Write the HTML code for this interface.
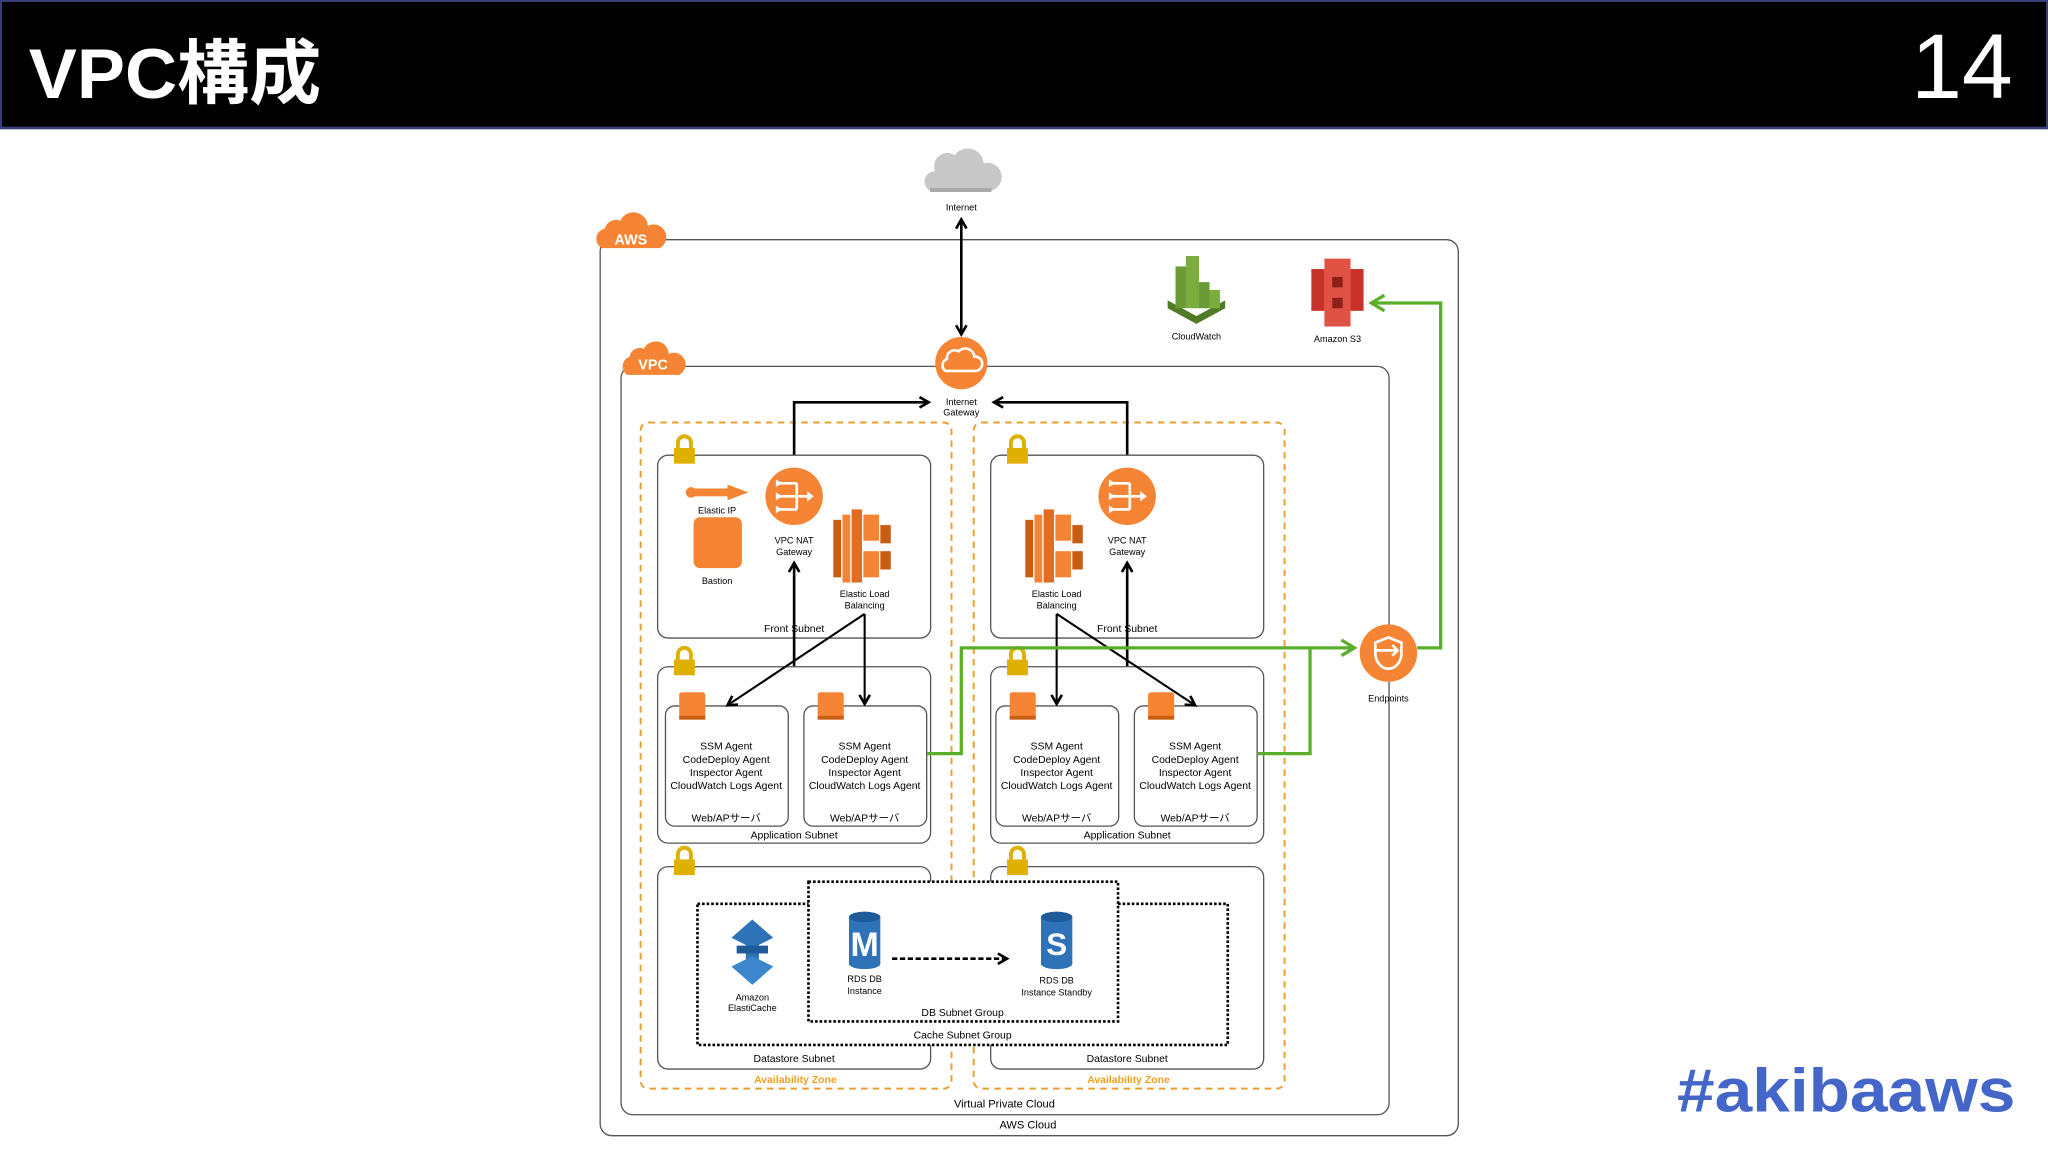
<!DOCTYPE html>
<html><head><meta charset="utf-8"><style>
html,body{margin:0;padding:0;background:#fff;}
svg{display:block;}
text{font-family:"Liberation Sans","Noto Sans CJK JP",sans-serif;}
</style></head><body>
<svg width="2048" height="1152" viewBox="0 0 1568 882" xmlns="http://www.w3.org/2000/svg">
<defs>
<marker id="ab" markerWidth="10" markerHeight="10" refX="8" refY="5" orient="auto-start-reverse" markerUnits="userSpaceOnUse"><path d="M1,1 L8,5 L1,9" fill="none" stroke="#000" stroke-width="2"/></marker>
<marker id="ag" markerWidth="14" markerHeight="14" refX="11" refY="7" orient="auto-start-reverse" markerUnits="userSpaceOnUse"><path d="M1,1 L11,7 L1,13" fill="none" stroke="#5aaf2a" stroke-width="2.5"/></marker>
<g id="lock"><rect x="-8" y="-3" width="16" height="12" fill="#e0b000"/><path d="M-5,-3 V-7 a5,5 0 0 1 10,0 V-3" fill="none" stroke="#e0b000" stroke-width="3"/></g>
<g id="nat"><circle r="22" fill="#f58534"/><path d="M-12,-10 H2 M-12,0 H10 M-12,10 H2 M2,-10 V10" stroke="#fff" stroke-width="2" fill="none"/><path d="M10,-4 L15,0 L10,4Z M-14,-13 l5,3 -5,3Z M-14,-3 l5,3 -5,3Z M-14,7 l5,3 -5,3Z" fill="#fff"/></g>
<g id="elb"><rect x="-24" y="-20" width="6" height="44" fill="#c85d14"/><rect x="-17" y="-24" width="6" height="52" fill="#f58534"/><rect x="-10" y="-28" width="8" height="56" fill="#e06d20"/><rect x="-1" y="-24" width="12" height="20" fill="#f58534"/><rect x="-1" y="4" width="12" height="20" fill="#f58534"/><rect x="12" y="-16" width="8" height="14" fill="#c85d14"/><rect x="12" y="4" width="8" height="14" fill="#c85d14"/></g>
<g id="inst"><rect x="-10" y="-10" width="20" height="20" rx="2" fill="#f58534"/><rect x="-10" y="8" width="20" height="3" fill="#c85d14"/></g>
</defs>

<rect x="0" y="0" width="1568" height="98" fill="#000"/>
<rect x="0" y="0" width="1568" height="1.5" fill="#3a3f7a"/>
<rect x="0" y="97" width="1568" height="2" fill="#3a3f7a"/>
<rect x="0" y="0" width="1.5" height="98" fill="#3a3f7a"/>
<rect x="1566.5" y="0" width="1.5" height="98" fill="#3a3f7a"/>
<text x="22" y="75" font-size="54" font-weight="bold" fill="#fff" textLength="224" lengthAdjust="spacingAndGlyphs">VPC構成</text>
<text x="1541" y="75" font-size="70" fill="#fff" text-anchor="end">14</text>
<text x="1284" y="851" font-size="47" font-weight="bold" fill="#4466c8" textLength="259" lengthAdjust="spacingAndGlyphs">#akibaaws</text>

<rect x="459.5" y="183.5" width="657" height="686" rx="9" fill="#fff" stroke="#555" stroke-width="1"/>
<rect x="475.5" y="280.5" width="588" height="573" rx="9" fill="#fff" stroke="#555" stroke-width="1"/>
<text x="787" y="864" font-size="8.5" text-anchor="middle">AWS Cloud</text>
<text x="769" y="848" font-size="8.5" text-anchor="middle">Virtual Private Cloud</text>

<g transform="translate(483,180)"><path d="M-22,10 a8,8 0 0 1 2,-15 a9,9 0 0 1 12,-6 a11,11 0 0 1 21,4 a8,8 0 0 1 9,17Z" fill="#f58534"/><text x="0" y="7" font-size="11" fill="#fff" text-anchor="middle" font-weight="bold">AWS</text></g>
<g transform="translate(500,277)"><path d="M-20,10 a8,8 0 0 1 2,-14 a8,8 0 0 1 11,-6 a10,10 0 0 1 19,4 a8,8 0 0 1 8,16Z" fill="#f58534"/><text x="0" y="6" font-size="11" fill="#fff" text-anchor="middle" font-weight="bold">VPC</text></g>

<path d="M712,146 a8,8 0 0 1 4,-15 a10,10 0 0 1 15,-12 a12,12 0 0 1 22,6 a9,9 0 0 1 6,21Z" fill="#c8c8c8"/>
<rect x="712" y="144" width="47" height="3" fill="#aaa"/>
<text x="736" y="161" font-size="7" text-anchor="middle">Internet</text>
<line x1="736" y1="168" x2="736" y2="256" stroke="#000" stroke-width="2" marker-start="url(#ab)" marker-end="url(#ab)"/>

<circle cx="736" cy="278" r="20" fill="#f58534"/>
<path d="M724,284 a5,5 0 0 1 1,-9 a6,6 0 0 1 9,-6 a7,7 0 0 1 12,4 a5,5 0 0 1 1,11Z" fill="none" stroke="#fff" stroke-width="2"/>
<text x="736" y="310" font-size="7" text-anchor="middle">Internet</text>
<text x="736" y="318" font-size="7" text-anchor="middle">Gateway</text>

<g transform="translate(916,222)"><path d="M-22,14 L0,26 L22,14 L22,8 L0,20 L-22,8Z" fill="#4f7a26"/><rect x="-16" y="-18" width="8" height="32" fill="#6a9a35"/><rect x="-8" y="-26" width="10" height="40" fill="#7aad3b"/><rect x="2" y="-6" width="8" height="20" fill="#6a9a35"/><rect x="10" y="0" width="8" height="14" fill="#7aad3b"/></g>
<text x="916" y="260" font-size="7" text-anchor="middle">CloudWatch</text>
<g transform="translate(1024,224)"><rect x="-20" y="-18" width="10" height="32" fill="#c7322a"/><rect x="10" y="-18" width="10" height="32" fill="#c7322a"/><rect x="-10" y="-26" width="20" height="52" fill="#e05243"/><rect x="-4" y="-12" width="8" height="8" fill="#8c2019"/><rect x="-4" y="4" width="8" height="8" fill="#8c2019"/></g>
<text x="1024" y="262" font-size="7" text-anchor="middle">Amazon S3</text>

<rect x="490.5" y="323.5" width="238" height="510" rx="6" fill="none" stroke="#e8a030" stroke-width="1.5" stroke-dasharray="5,4"/>
<rect x="745.5" y="323.5" width="238" height="510" rx="6" fill="none" stroke="#e8a030" stroke-width="1.5" stroke-dasharray="5,4"/>
<text x="609" y="829" font-size="8" font-weight="bold" fill="#f0a020" text-anchor="middle">Availability Zone</text>
<text x="864" y="829" font-size="8" font-weight="bold" fill="#f0a020" text-anchor="middle">Availability Zone</text>

<g fill="#fff" stroke="#555" stroke-width="1">
<rect x="503.5" y="348.5" width="209" height="140" rx="8"/>
<rect x="758.5" y="348.5" width="209" height="140" rx="8"/>
<rect x="503.5" y="510.5" width="209" height="135" rx="8"/>
<rect x="758.5" y="510.5" width="209" height="135" rx="8"/>
<rect x="503.5" y="663.5" width="209" height="155" rx="8"/>
<rect x="758.5" y="663.5" width="209" height="155" rx="8"/>
<rect x="509.5" y="540.5" width="94" height="92" rx="7"/>
<rect x="615.5" y="540.5" width="94" height="92" rx="7"/>
<rect x="762.5" y="540.5" width="94" height="92" rx="7"/>
<rect x="868.5" y="540.5" width="94" height="92" rx="7"/>
</g>
<use href="#lock" x="524" y="346"/><use href="#lock" x="779" y="346"/>
<use href="#lock" x="524" y="508"/><use href="#lock" x="779" y="508"/>
<use href="#lock" x="524" y="661"/><use href="#lock" x="779" y="661"/>

<g font-size="8" text-anchor="middle">
<text x="608" y="484">Front Subnet</text><text x="863" y="484">Front Subnet</text>
<text x="608" y="642">Application Subnet</text><text x="863" y="642">Application Subnet</text>
<text x="608" y="813">Datastore Subnet</text><text x="863" y="813">Datastore Subnet</text>
</g>

<g transform="translate(549,377)"><circle cx="-20" cy="0" r="4" fill="#f58534"/><rect x="-20" y="-3" width="30" height="6" fill="#f58534"/><path d="M8,-6 L24,0 L8,6Z" fill="#f58534"/></g>
<text x="549" y="393" font-size="7" text-anchor="middle">Elastic IP</text>
<rect x="531" y="396" width="37" height="39" rx="5" fill="#f58534"/>
<text x="549" y="447" font-size="7" text-anchor="middle">Bastion</text>
<use href="#nat" x="608" y="380"/>
<text x="608" y="416" font-size="7" text-anchor="middle">VPC NAT</text><text x="608" y="425" font-size="7" text-anchor="middle">Gateway</text>
<use href="#elb" x="662" y="418"/>
<text x="662" y="457" font-size="7" text-anchor="middle">Elastic Load</text><text x="662" y="466" font-size="7" text-anchor="middle">Balancing</text>
<use href="#elb" x="809" y="418"/>
<text x="809" y="457" font-size="7" text-anchor="middle">Elastic Load</text><text x="809" y="466" font-size="7" text-anchor="middle">Balancing</text>
<use href="#nat" x="863" y="380"/>
<text x="863" y="416" font-size="7" text-anchor="middle">VPC NAT</text><text x="863" y="425" font-size="7" text-anchor="middle">Gateway</text>

<use href="#inst" x="530" y="540"/><use href="#inst" x="636" y="540"/>
<use href="#inst" x="783" y="540"/><use href="#inst" x="889" y="540"/>
<g font-size="8" text-anchor="middle">
<text x="556" y="574">SSM Agent</text><text x="556" y="584">CodeDeploy Agent</text><text x="556" y="594">Inspector Agent</text><text x="556" y="604">CloudWatch Logs Agent</text><text x="556" y="629">Web/APサーバ</text>
<text x="662" y="574">SSM Agent</text><text x="662" y="584">CodeDeploy Agent</text><text x="662" y="594">Inspector Agent</text><text x="662" y="604">CloudWatch Logs Agent</text><text x="662" y="629">Web/APサーバ</text>
<text x="809" y="574">SSM Agent</text><text x="809" y="584">CodeDeploy Agent</text><text x="809" y="594">Inspector Agent</text><text x="809" y="604">CloudWatch Logs Agent</text><text x="809" y="629">Web/APサーバ</text>
<text x="915" y="574">SSM Agent</text><text x="915" y="584">CodeDeploy Agent</text><text x="915" y="594">Inspector Agent</text><text x="915" y="604">CloudWatch Logs Agent</text><text x="915" y="629">Web/APサーバ</text>
</g>

<g fill="none" stroke="#000" stroke-width="2">
<path d="M608,348 V308 H711" marker-end="url(#ab)"/>
<path d="M863,348 V308 H761" marker-end="url(#ab)"/>
<path d="M608,510 V431" marker-end="url(#ab)"/>
<path d="M863,510 V431" marker-end="url(#ab)"/>
</g>
<g fill="none" stroke="#000" stroke-width="1.6">
<path d="M662,470 L557,540" marker-end="url(#ab)"/>
<path d="M662,470 V539" marker-end="url(#ab)"/>
<path d="M809,470 V539" marker-end="url(#ab)"/>
<path d="M809,470 L915,540" marker-end="url(#ab)"/>
</g>

<g fill="none" stroke="#5aaf2a" stroke-width="2.5">
<path d="M710,577 H736 V496 H1037" marker-end="url(#ag)"/>
<path d="M963,577 H1003 V496"/>
<path d="M1085,496 H1103 V232 H1050" marker-end="url(#ag)"/>
</g>
<circle cx="1063" cy="500" r="22" fill="#f58534"/>
<path d="M1053,492 L1063,488 L1073,492 V500 a10,12 0 0 1 -10,12 a10,12 0 0 1 -10,-12Z" fill="none" stroke="#fff" stroke-width="2"/>
<path d="M1053,498 H1070 M1066,494 L1070,498 L1066,502" fill="none" stroke="#fff" stroke-width="2"/>
<text x="1063" y="537" font-size="7" text-anchor="middle">Endpoints</text>

<rect x="534" y="692" width="406" height="108" fill="#fff" stroke="#000" stroke-width="2" stroke-dasharray="2,1.5"/>
<rect x="619" y="675" width="237" height="107" fill="#fff" stroke="#000" stroke-width="2" stroke-dasharray="2,1.5"/>
<text x="737" y="795" font-size="8" text-anchor="middle">Cache Subnet Group</text>
<text x="737" y="778" font-size="8" text-anchor="middle">DB Subnet Group</text>
<g transform="translate(576,728)"><path d="M-16,-10 L0,-24 L16,-10 L0,-2Z" fill="#2e73b8"/><rect x="-5" y="-6" width="10" height="18" fill="#2e73b8"/><rect x="-12" y="-4" width="24" height="6" fill="#1f5a99"/><path d="M-16,12 L0,4 L16,12 L0,26Z" fill="#3b86cc"/></g>
<text x="576" y="766" font-size="7" text-anchor="middle">Amazon</text><text x="576" y="774" font-size="7" text-anchor="middle">ElastiCache</text>
<g transform="translate(662,720)"><rect x="-12" y="-18" width="24" height="36" fill="#2e73b8"/><ellipse cx="0" cy="-18" rx="12" ry="4" fill="#1f5a99"/><ellipse cx="0" cy="18" rx="12" ry="4" fill="#2e73b8"/><text x="0" y="12" font-size="26" font-weight="bold" fill="#fff" text-anchor="middle">M</text></g>
<text x="662" y="752" font-size="7" text-anchor="middle">RDS DB</text><text x="662" y="761" font-size="7" text-anchor="middle">Instance</text>
<g transform="translate(809,720)"><rect x="-12" y="-18" width="24" height="36" fill="#2e73b8"/><ellipse cx="0" cy="-18" rx="12" ry="4" fill="#1f5a99"/><ellipse cx="0" cy="18" rx="12" ry="4" fill="#2e73b8"/><text x="0" y="11" font-size="24" font-weight="bold" fill="#fff" text-anchor="middle">S</text></g>
<text x="809" y="753" font-size="7" text-anchor="middle">RDS DB</text><text x="809" y="762" font-size="7" text-anchor="middle">Instance Standby</text>
<path d="M683,734 H771" fill="none" stroke="#000" stroke-width="2" stroke-dasharray="4,2" marker-end="url(#ab)"/>
</svg>
</body></html>
